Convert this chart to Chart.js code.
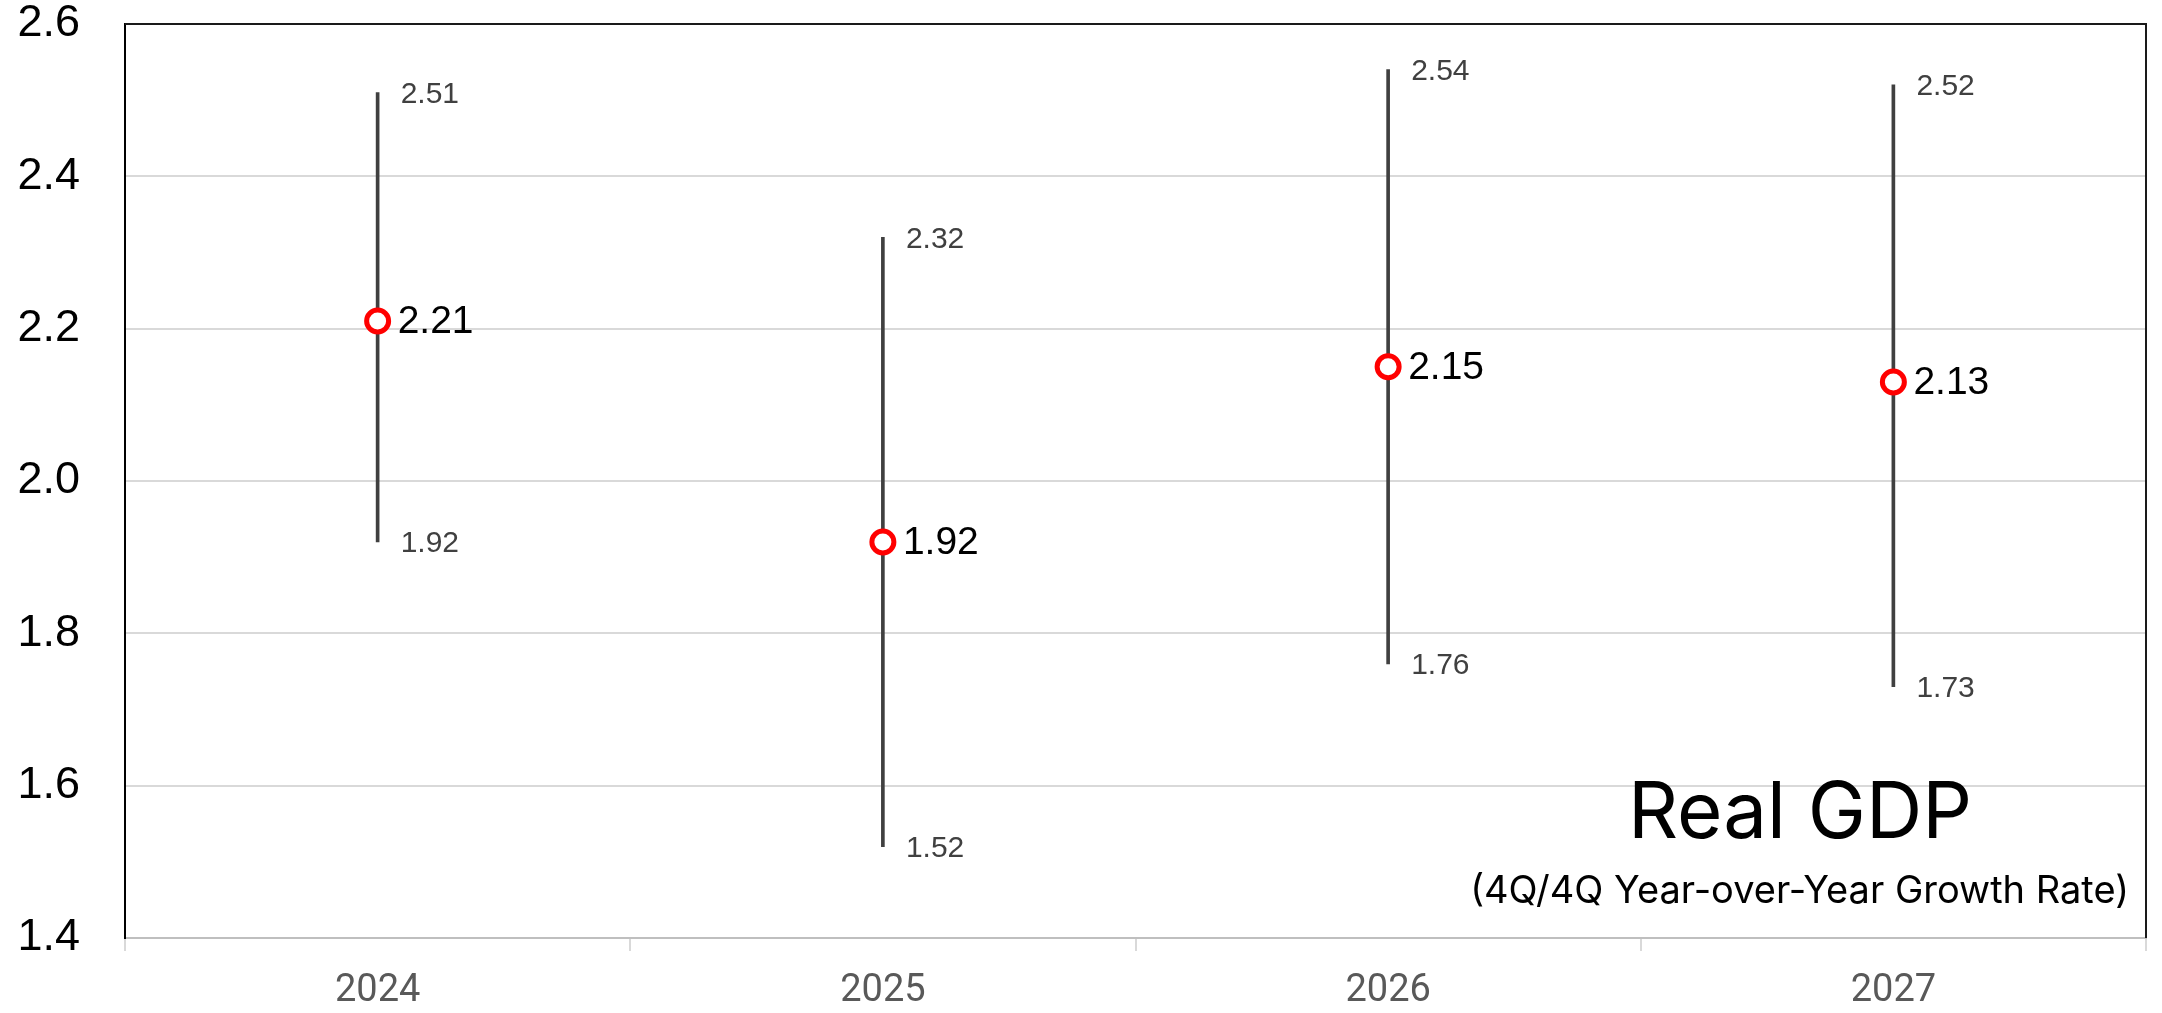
<!DOCTYPE html>
<html>
<head>
<meta charset="utf-8">
<script src="https://cdn.jsdelivr.net/npm/chart.js@4.4.1/dist/chart.umd.min.js"></script>
<style>
  html, body { margin: 0; padding: 0; background: #ffffff; }
  #wrap { width: 2162px; height: 1013px; }
</style>
</head>
<body>
<div id="wrap"><canvas id="c" width="2162" height="1013"></canvas></div>
<script>
// ---- data ----
const categories = ['2024', '2025', '2026', '2027'];
const meanValues = [2.21, 1.92, 2.15, 2.13];
const highValues = [2.51, 2.32, 2.54, 2.52];
const lowValues  = [1.92, 1.52, 1.76, 1.73];
const yMin = 1.4;
const yMax = 2.6;
const yStep = 0.2;
const titleText = 'Real GDP';
const subtitleText = '(4Q/4Q Year-over-Year Growth Rate)';

const rangeData = categories.map((c, i) => [lowValues[i], highValues[i]]);

const labelPlugin = {
  id: 'labels',
  afterDatasetsDraw(chart) {
    const ctx = chart.ctx;
    const ys = chart.scales.y;
    const barMeta = chart.getDatasetMeta(0);
    const ptMeta = chart.getDatasetMeta(1);
    ctx.save();
    ctx.textBaseline = 'middle';
    ctx.textAlign = 'left';
    barMeta.data.forEach((el, i) => {
      const x = el.x;
      ctx.font = '30px "Liberation Sans", Arial, sans-serif';
      ctx.fillStyle = '#404040';
      ctx.fillText(highValues[i].toFixed(2), x + 23, ys.getPixelForValue(highValues[i]) + 2);
      ctx.fillText(lowValues[i].toFixed(2), x + 23, ys.getPixelForValue(lowValues[i]) + 2);
    });
    ptMeta.data.forEach((el, i) => {
      ctx.font = '39px "Liberation Sans", Arial, sans-serif';
      ctx.fillStyle = '#000000';
      ctx.fillText(meanValues[i].toFixed(2), el.x + 20, el.y + 1);
    });
    ctx.restore();
  }
};

const framePlugin = {
  id: 'frame',
  afterDraw(chart) {
    const ctx = chart.ctx;
    const a = chart.chartArea;
    ctx.save();
    ctx.strokeStyle = '#1a1a1a';
    ctx.lineWidth = 2;
    ctx.beginPath();
    ctx.moveTo(a.left, a.top);
    ctx.lineTo(a.right, a.top);
    ctx.lineTo(a.right, a.bottom);
    ctx.stroke();
    // title texts
    ctx.fillStyle = '#000000';
    ctx.textBaseline = 'alphabetic';
    ctx.textAlign = 'center';
    ctx.font = '78px Inter, "Open Sans", sans-serif';
    ctx.fillText(titleText, a.right - 346, a.bottom - 100);
    ctx.textAlign = 'right';
    ctx.font = '38px Inter, "Open Sans", sans-serif';
    ctx.fillText(subtitleText, a.right - 17, a.bottom - 35);
    ctx.restore();
  }
};

new Chart(document.getElementById('c'), {
  type: 'bar',
  data: {
    labels: categories,
    datasets: [
      {
        type: 'bar',
        data: rangeData,
        backgroundColor: '#404040',
        borderWidth: 0,
        barThickness: 3,
        grouped: false,
        order: 2
      },
      {
        type: 'line',
        data: meanValues,
        showLine: false,
        pointStyle: 'circle',
        pointRadius: 11,
        pointBorderWidth: 5,
        pointBorderColor: '#ff0000',
        pointBackgroundColor: '#ffffff',
        order: 1
      }
    ]
  },
  options: {
    responsive: false,
    animation: false,
    layout: { padding: { top: 24, right: 10, left: 0, bottom: 0 } },
    plugins: { legend: { display: false }, tooltip: { enabled: false } },
    scales: {
      x: {
        offset: true,
        grid: {
          offset: true,
          drawOnChartArea: false,
          drawTicks: true,
          tickLength: 13,
          color: '#d9d9d9',
          lineWidth: 2
        },
        border: { display: true, color: '#bfbfbf', width: 2 },
        ticks: {
          color: '#595959',
          font: { family: '"Liberation Sans Narrow", Roboto, sans-serif', size: 38 },
          padding: 18,
          maxRotation: 0
        },
        afterFit(s) { s.height = 75; s.paddingLeft = 0; s.paddingRight = 0; }
      },
      y: {
        min: yMin,
        max: yMax,
        grid: { color: '#d9d9d9', lineWidth: 2, drawTicks: false },
        border: { display: true, color: '#000000', width: 2 },
        ticks: {
          stepSize: yStep,
          color: '#000000',
          padding: 45,
          font: { family: '"Liberation Sans", Arial, sans-serif', size: 45 },
          callback: v => Number(v).toFixed(1)
        },
        afterFit(s) { s.width = 125; s.paddingTop = 0; s.paddingBottom = 0; }
      }
    }
  },
  plugins: [labelPlugin, framePlugin]
});
</script>
</body>
</html>
